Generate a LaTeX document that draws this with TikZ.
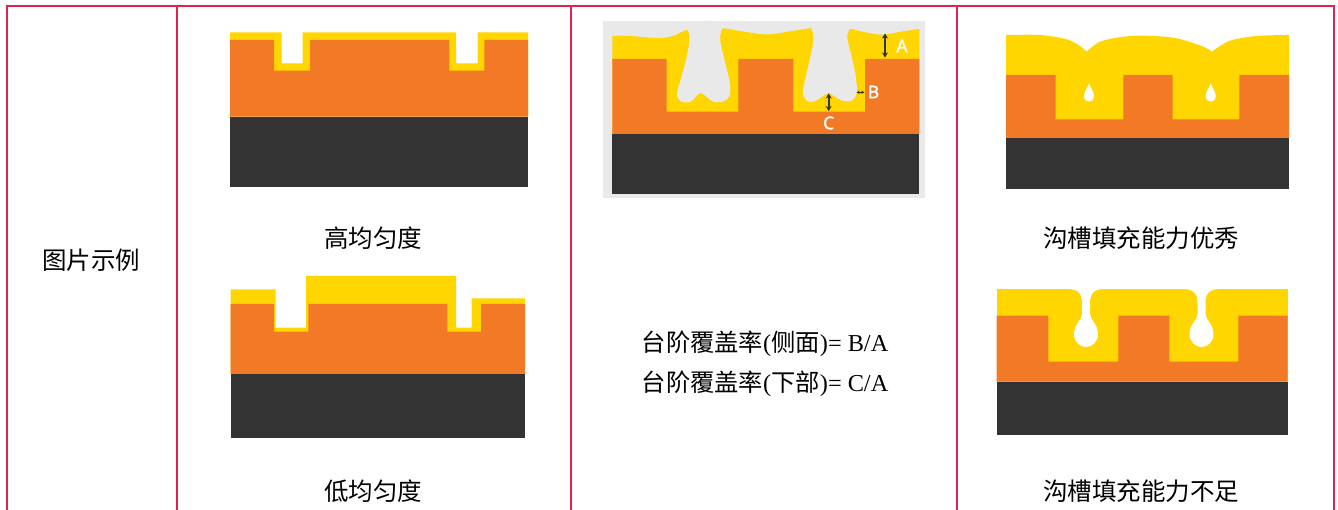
\documentclass[tikz,border=0pt]{standalone}
\usepackage{fontspec}
\setmainfont{Liberation Serif}
\newfontfamily\cjk{Noto Sans CJK SC}
\newfontfamily\markfont{Noto Sans}[FakeBold=1.6]
\usetikzlibrary{arrows.meta}

\definecolor{tablered}{RGB}{222,36,78}
\definecolor{film}{RGB}{255,214,0}
\definecolor{oxide}{RGB}{242,121,38}
\definecolor{wafer}{RGB}{51,51,51}
\definecolor{voidgrey}{RGB}{233,233,233}

% teardrop void, tip at (#1,#2)
\newcommand{\dropvoid}[2]{%
  \begin{scope}[shift={(#1,#2)}]
    \fill[white] (0,0) .. controls (-1,4) and (-5,8) .. (-5,12.5)
      .. controls (-5,16.3) and (-2.6,18.4) .. (0,18.4)
      .. controls (2.6,18.4) and (5,16.3) .. (5,12.5)
      .. controls (5,8) and (1,4) .. (0,0) -- cycle;
  \end{scope}}
% keyhole void, neck centred on #1, film top at #2
\newcommand{\keyvoid}[2]{%
  \begin{scope}[shift={(#1,#2)}]
    \fill[white] (-19,0) .. controls (-8,0) and (-4,4) .. (-4,14) -- (-4,25)
      .. controls (-4,31) and (-12,35) .. (-12,45)
      .. controls (-12,53) and (-6,58) .. (0,58)
      .. controls (6,58) and (12,53) .. (12,45)
      .. controls (12,35) and (4,31) .. (4,25) -- (4,14)
      .. controls (4,4) and (8,0) .. (19,0) -- (19,-3) -- (-19,-3) -- cycle;
  \end{scope}}

\begin{document}
\begin{tikzpicture}[x=1pt,y=-1pt]
  \tikzstyle{grid}=[draw=tablered, line width=2pt]
  \tikzstyle{caption}=[font=\cjk\fontsize{24.5}{29}\selectfont, inner sep=0pt]
  \tikzstyle{formula}=[font=\fontsize{24.3}{29}\selectfont, inner sep=0pt]
  \tikzstyle{dimlabel}=[font=\markfont\fontsize{17.5}{19}\selectfont, text=white, inner sep=0pt]
  \tikzstyle{dim}=[draw=wafer, line width=1.8pt, {Stealth[length=5pt,width=6pt]}-{Stealth[length=5pt,width=6pt]}]
  \useasboundingbox (0,0) rectangle (1338,510);

  % table frame
  \draw[grid] (6,6) -- (1334,6);
  \foreach \xc in {6.5,177,570.5,957,1334}
    \draw[grid] (\xc,5) -- (\xc,510);

  \node [caption] (rowhead) at (91,260) {图片示例};

  % high uniformity
  \fill[film] (230,32.3) -- (281.7,32.3) -- (281.7,63.3) -- (302.7,63.3) -- (302.7,32.3)
    -- (456,32.3) -- (456,63.3) -- (477.7,63.3) -- (477.7,32.3) -- (528,32.3)
    -- (528,116.7) -- (230,116.7) -- cycle;
  \fill[oxide] (230,40) -- (274,40) -- (274,70.7) -- (310,70.7) -- (310,40)
    -- (449.3,40) -- (449.3,70.7) -- (484.3,70.7) -- (484.3,40) -- (528,40)
    -- (528,116.7) -- (230,116.7) -- cycle;
  \fill[wafer] (230,116.7) rectangle (528,186.7);
  \node [caption] (high) at (373,238) {高均匀度};

  % low uniformity
  \fill[film] (230.7,289.3) -- (275.7,289.3) -- (275.7,327.7) -- (306,327.7) -- (306,276)
    -- (456,276) -- (456,327.7) -- (471.7,327.7) -- (471.7,298.3) -- (525,298.3)
    -- (525,374.3) -- (230.7,374.3) -- cycle;
  \fill[oxide] (230.7,304) -- (274,304) -- (274,331.7) -- (308.3,331.7) -- (308.3,304)
    -- (447.3,304) -- (447.3,331.7) -- (481,331.7) -- (481,304) -- (525,304)
    -- (525,374.3) -- (230.7,374.3) -- cycle;
  \fill[wafer] (230.7,374.3) rectangle (525,438.3);
  \node [caption] (low) at (373,491) {低均匀度};

  % step coverage
  \fill[voidgrey] (602.5,21) rectangle (925,198.5);
  \fill[film] plot[smooth] coordinates {(612.3,36) (630,36) (648,37.5) (664,38) (677,34.5) (686,30)
      (702,29) (720,28) (740,31) (766.7,34.5) (792,31) (812,28) (830,27.5) (848,28.3)
      (866,32.5) (883,34.7) (902,31.5) (919.3,29)}
    -- (919.3,134) -- (612.3,134) -- cycle;
  \fill[oxide] (612.3,59) -- (666.7,59) -- (666.7,111.7) -- (738.3,111.7) -- (738.3,59)
    -- (793.3,59) -- (793.3,111.7) -- (865,111.7) -- (865,59) -- (919.3,59)
    -- (919.3,134) -- (612.3,134) -- cycle;
  \fill[voidgrey] plot[smooth cycle, tension=0.6] coordinates {(683.5,22) (687,29) (689.5,38)
      (686.5,58) (680.5,80) (677,94) (680.5,101) (690,102) (697,95.5) (700.5,93)
      (705,95.5) (713,101.5) (723,101.5) (729.5,96) (730,84) (725,62) (720.5,42) (721,31) (724.5,22)};
  \fill[voidgrey] plot[smooth cycle, tension=0.6] coordinates {(808,22) (811.5,29) (813.5,38)
      (810.5,56) (806,76) (803,92) (806.5,100.5) (814,101.5) (823,96) (828.5,93)
      (834,96) (843,101) (852,100.5) (856.5,93) (856,78) (852,58) (847.5,39) (849,30) (852.5,22)};
  \fill[wafer] (612.3,134) rectangle (919.3,194.3);
  \coordinate (Atop) at (885,33.5);
  \coordinate (Abot) at (885,57.5);
  \coordinate (Bin) at (856.7,92.3);
  \coordinate (Bout) at (864.3,92.3);
  \coordinate (Ctop) at (828.7,93.5);
  \coordinate (Cbot) at (828.7,111);
  \draw[dim] (Atop) -- (Abot);
  \draw[dim, {Stealth[length=3pt,width=3.5pt]}-{Stealth[length=3pt,width=3.5pt]}, line width=1.1pt] (Bin) -- (Bout);
  \draw[dim] (Ctop) -- (Cbot);
  \node [dimlabel] (A) at (902,46) {A};
  \node [dimlabel] (B) at (873.5,92) {B};
  \node [dimlabel] (C) at (828.7,123) {C};
  \node [formula] (side) at (765,344) {{\cjk 台阶覆盖率}({\cjk 侧面})= B/A};
  \node [formula] (bottom) at (765,384) {{\cjk 台阶覆盖率}({\cjk 下部})= C/A};

  % good gap fill
  \fill[film] plot[smooth] coordinates {(1006,35) (1040,35) (1066.7,39.3) (1080,46) (1086.7,51.7)}
    -- plot[smooth] coordinates {(1086.7,51.7) (1100,41.7) (1123.3,36.7) (1146.7,35.7) (1176.7,38.3) (1203.3,46.7) (1211.7,51.7)}
    -- plot[smooth] coordinates {(1211.7,51.7) (1230,40.7) (1256.7,36) (1289,35)}
    -- (1289,138.3) -- (1006,138.3) -- cycle;
  \fill[oxide] (1006,75) -- (1055.7,75) -- (1055.7,119.3) -- (1123.3,119.3) -- (1123.3,75)
    -- (1172.7,75) -- (1172.7,119.3) -- (1239.3,119.3) -- (1239.3,75) -- (1289,75)
    -- (1289,138.3) -- (1006,138.3) -- cycle;
  \dropvoid{1089}{83.3}
  \dropvoid{1210.7}{83.3}
  \fill[wafer] (1006,138.3) rectangle (1289,189.3);
  \node [caption] (good) at (1141,238) {沟槽填充能力优秀};

  % poor gap fill
  \fill[film] (996.7,289) rectangle (1287.7,381.7);
  \fill[oxide] (996.7,315.7) -- (1048.3,315.7) -- (1048.3,361.7) -- (1118.3,361.7) -- (1118.3,315.7)
    -- (1169.3,315.7) -- (1169.3,361.7) -- (1238.3,361.7) -- (1238.3,315.7) -- (1287.7,315.7)
    -- (1287.7,381.7) -- (996.7,381.7) -- cycle;
  \keyvoid{1086}{289}
  \keyvoid{1201.5}{289}
  \fill[wafer] (996.7,381.7) rectangle (1287.7,435);
  \node [caption] (poor) at (1141,491) {沟槽填充能力不足};
\end{tikzpicture}
\end{document}
